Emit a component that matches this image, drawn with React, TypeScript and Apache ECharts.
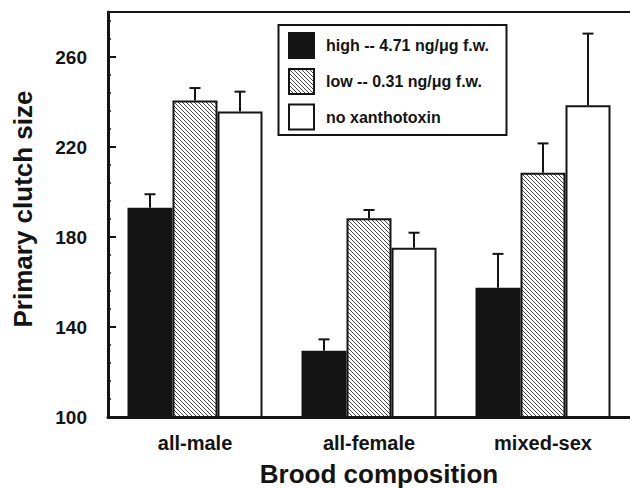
import React, { useEffect, useRef } from 'react';
import * as echarts from 'echarts';

const categories = ['all-male', 'all-female', 'mixed-sex'];
const seriesNames = ['high -- 4.71 ng/μg f.w.', 'low -- 0.31 ng/μg f.w.', 'no xanthotoxin'];
const highValues = [193, 129.5, 157.5];
const highErrors = [6, 5, 15];
const lowValues = [240.7, 188.3, 208.6];
const lowErrors = [5.5, 3.7, 13];
const noneValues = [235.8, 175.2, 238.6];
const noneErrors = [8.8, 6.7, 31.8];
const yMin = 100;
const yMax = 280;
const yInterval = 40;
const yMinorInterval = 8;

const FONT = '"Liberation Sans", Arial, Helvetica, sans-serif';
const INK = '#141414';

function makeHatch(): HTMLCanvasElement {
  const c = document.createElement('canvas');
  c.width = 4;
  c.height = 4;
  const ctx = c.getContext('2d')!;
  ctx.fillStyle = '#ffffff';
  ctx.fillRect(0, 0, 4, 4);
  ctx.strokeStyle = '#333333';
  ctx.lineWidth = 0.9;
  ctx.beginPath();
  ctx.moveTo(-1, -1);
  ctx.lineTo(5, 5);
  ctx.moveTo(3, -1);
  ctx.lineTo(5, 1);
  ctx.moveTo(-1, 3);
  ctx.lineTo(1, 5);
  ctx.stroke();
  return c;
}

export default function App() {
  const ref = useRef<HTMLDivElement>(null);

  useEffect(() => {
    if (!ref.current) return;
    const chart = echarts.init(ref.current, undefined, { renderer: 'svg' });
    const hatch = { image: makeHatch(), repeat: 'repeat' } as any;
    const BAR_W = 45;
    const fills = [INK, hatch, '#ffffff'];
    const valueSets = [highValues, lowValues, noneValues];
    const errorSets = [highErrors, lowErrors, noneErrors];

    const barSeries = valueSets.map((vals, s) => ({
      type: 'bar',
      name: seriesNames[s],
      data: vals,
      barWidth: BAR_W,
      barGap: '0%',
      itemStyle: { color: fills[s], borderColor: INK, borderWidth: 2 },
      z: 2,
    }));

    const errSeries = valueSets.map((vals, s) => ({
      type: 'custom',
      name: seriesNames[s] + ' error',
      z: 10,
      encode: { x: 0, y: 1 },
      data: categories.map((_, i) => [i, vals[i], errorSets[s][i]]),
      renderItem: (params: any, api: any) => {
        const x = api.value(0);
        const v = api.value(1);
        const e = api.value(2);
        const p0 = api.coord([x, v]);
        const p1 = api.coord([x, v + e]);
        const cx = p0[0] + (s - 1) * BAR_W;
        return {
          type: 'group',
          children: [
            { type: 'line', shape: { x1: cx, y1: p0[1], x2: cx, y2: p1[1] }, style: { stroke: INK, lineWidth: 2 } },
            { type: 'line', shape: { x1: cx - 5.5, y1: p1[1], x2: cx + 5.5, y2: p1[1] }, style: { stroke: INK, lineWidth: 2 } },
          ],
        };
      },
    }));

    const legendTop = [33, 69, 104.5];
    const legendChildren: any[] = [
      { type: 'rect', shape: { x: 278.5, y: 25, width: 228, height: 110 }, style: { fill: '#fff', stroke: INK, lineWidth: 2 } },
    ];
    legendTop.forEach((t, i) => {
      legendChildren.push({
        type: 'rect',
        shape: { x: 289, y: t, width: 25, height: 25 },
        style: { fill: fills[i], stroke: INK, lineWidth: 2 },
      });
      legendChildren.push({
        type: 'text',
        x: 326,
        y: t + 12.5,
        style: { text: seriesNames[i], fontFamily: FONT, fontWeight: 'bold', fontSize: 16, fill: INK, verticalAlign: 'middle', align: 'left' },
      });
    });

    chart.setOption({
      animation: false,
      grid: { left: 108, right: -11, top: 12, bottom: 71 },
      xAxis: [
        {
          type: 'category',
          data: categories,
          axisLine: { lineStyle: { color: INK, width: 3 } },
          axisTick: { show: false },
          axisLabel: { color: INK, fontFamily: FONT, fontWeight: 'bold', fontSize: 20, margin: 16 },
        },
        {
          type: 'category',
          position: 'top',
          data: categories,
          axisLine: { lineStyle: { color: INK, width: 2 } },
          axisTick: { show: false },
          axisLabel: { show: false },
        },
      ],
      yAxis: [
        {
          type: 'value',
          min: yMin,
          max: yMax,
          interval: yInterval,
          axisLine: { show: true, lineStyle: { color: INK, width: 3 } },
          axisTick: { show: true, inside: true, length: 8, lineStyle: { color: INK, width: 2 } },
          splitLine: { show: false },
          axisLabel: {
            color: INK,
            fontFamily: FONT,
            fontWeight: 'bold',
            fontSize: 19,
            margin: 21,
            showMaxLabel: false,
            padding: [6, 0, 0, 0],
          },
        },
        {
          type: 'value',
          min: yMin,
          max: yMax,
          interval: yMinorInterval,
          position: 'left',
          axisLine: { show: false },
          axisTick: { show: true, inside: true, length: 3, lineStyle: { color: INK, width: 1.5 } },
          splitLine: { show: false },
          axisLabel: { show: false },
        },
      ],
      series: [...barSeries, ...errSeries],
      graphic: [
        {
          type: 'text',
          x: 23,
          y: 209,
          rotation: Math.PI / 2,
          style: { text: 'Primary clutch size', fontFamily: FONT, fontWeight: 'bold', fontSize: 26, fill: INK, align: 'center', verticalAlign: 'middle' },
        },
        {
          type: 'text',
          x: 379,
          y: 474,
          style: { text: 'Brood composition', fontFamily: FONT, fontWeight: 'bold', fontSize: 26, fill: INK, align: 'center', verticalAlign: 'middle' },
        },
        { type: 'group', z: 100, children: legendChildren },
      ],
    });
    return () => chart.dispose();
  }, []);

  return <div ref={ref} style={{ position: 'fixed', left: 0, top: 0, width: 630, height: 488, background: '#fff' }} />;
}
